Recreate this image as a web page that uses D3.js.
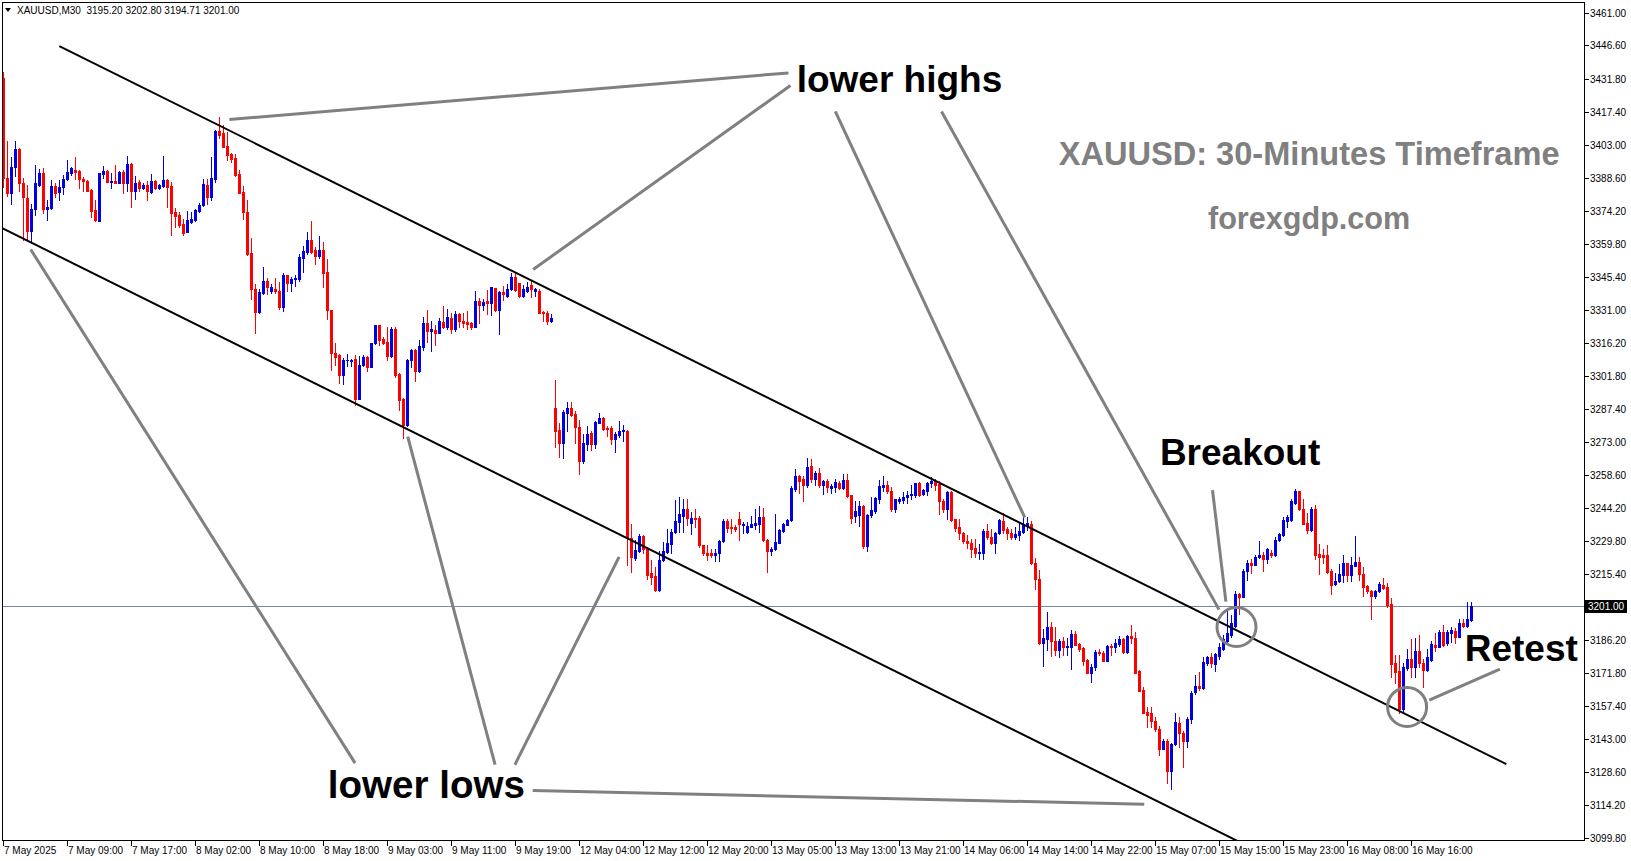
<!DOCTYPE html>
<html><head><meta charset="utf-8">
<script src="https://cdn.jsdelivr.net/npm/d3@7"></script>
<style>html,body{margin:0;padding:0;background:#fff;overflow:hidden}svg{display:block}</style>
</head><body>
<svg id="chart" width="1631" height="861"></svg>
<script>
// ---------------- DATA ----------------
const symbolName = "XAUUSD,M30";
const headerOHLC = ["3195.20", "3202.80", "3194.71", "3201.00"];
const lastPrice = 3201.00;

const timeLabels = ["7 May 2025","7 May 09:00","7 May 17:00","8 May 02:00","8 May 10:00","8 May 18:00",
  "9 May 03:00","9 May 11:00","9 May 19:00","12 May 04:00","12 May 12:00","12 May 20:00","13 May 05:00",
  "13 May 13:00","13 May 21:00","14 May 06:00","14 May 14:00","14 May 22:00","15 May 07:00","15 May 15:00",
  "15 May 23:00","16 May 08:00","16 May 16:00"];
const barsPerTimeLabel = 16;

const priceTicks = [3461.00,3446.60,3431.80,3417.40,3403.00,3388.60,3374.20,3359.80,3345.40,3331.00,
  3316.20,3301.80,3287.40,3273.00,3258.60,3244.20,3229.80,3215.40,3186.20,3171.80,3157.40,3143.00,
  3128.60,3114.20,3099.80];

const opens = [3432.2,3388.4,3382.1,3393.2,3401.4,3386.2,3379.8,3365.5,3374.8,3385.5,3390.6,3374.8,3375.5,3385.0,3382.3,3384.6,3388.0,3390.6,3392.3,3391.6,
3388.2,3387.2,3383.3,3374.5,3369.6,3390.3,3391.6,3386.8,3387.2,3386.5,3391.2,3386.5,3394.7,3383.0,3386.8,3384.2,3385.5,3382.4,3387.2,3384.3,
3385.0,3387.7,3385.0,3373.7,3372.2,3368.4,3364.9,3369.3,3370.1,3374.2,3376.6,3385.6,3380.4,3388.2,3409.3,3408.4,3402.5,3399.0,3397.3,3390.3,
3382.4,3373.9,3355.9,3340.1,3330.0,3338.3,3343.6,3338.9,3339.8,3339.2,3331.9,3345.9,3342.7,3344.2,3344.2,3353.5,3356.2,3361.4,3357.0,3354.4,
3357.0,3347.4,3330.8,3311.8,3310.9,3302.2,3308.8,3308.6,3309.2,3292.0,3306.5,3310.0,3306.0,3316.2,3324.1,3318.2,3316.7,3310.6,3322.6,3302.7,
3291.7,3280.3,3308.9,3313.2,3304.0,3314.7,3325.2,3321.4,3322.0,3320.8,3325.5,3323.2,3327.5,3322.3,3329.0,3326.1,3325.5,3324.9,3323.5,3334.8,
3332.8,3334.6,3333.7,3340.4,3330.8,3338.6,3336.9,3339.8,3345.1,3342.4,3336.9,3338.9,3341.6,3339.2,3339.2,3329.9,3329.3,3326.0,3287.7,3278.2,
3272.7,3285.8,3287.8,3285.2,3279.7,3264.8,3272.1,3277.0,3272.1,3281.4,3283.7,3279.1,3279.1,3274.4,3276.2,3277.6,3277.9,3230.8,3222.4,3225.4,
3231.8,3226.2,3215.7,3214.3,3208.1,3221.3,3224.8,3228.3,3233.5,3237.9,3240.8,3243.7,3237.6,3239.7,3239.7,3227.7,3224.5,3224.5,3223.3,3224.2,
3229.7,3238.2,3235.6,3235.9,3239.1,3236.5,3233.5,3235.9,3236.8,3237.0,3240.2,3230.3,3225.1,3226.2,3228.9,3234.1,3236.8,3238.8,3252.6,3258.1,
3256.6,3254.3,3262.5,3256.6,3259.5,3254.0,3256.0,3252.8,3253.4,3255.2,3252.8,3256.3,3249.6,3240.6,3241.2,3244.9,3227.4,3240.9,3242.6,3248.2,
3253.4,3254.3,3251.7,3243.8,3247.3,3247.6,3248.7,3249.6,3249.6,3254.9,3250.2,3251.7,3254.9,3255.7,3254.6,3247.3,3243.8,3251.1,3239.1,3235.6,
3233.3,3229.8,3228.9,3226.6,3224.2,3224.2,3234.1,3231.5,3228.9,3233.0,3238.5,3235.0,3233.3,3231.5,3232.4,3233.6,3236.2,3237.0,3220.1,3213.1,
3185.1,3186.9,3192.1,3185.7,3181.9,3185.7,3183.1,3183.3,3188.9,3184.5,3182.8,3177.5,3172.0,3174.3,3181.0,3180.7,3177.2,3183.6,3183.1,3184.5,
3186.6,3181.0,3188.0,3187.1,3172.6,3164.4,3154.8,3154.2,3151.0,3147.5,3138.7,3142.2,3129.1,3140.7,3150.1,3145.7,3142.2,3151.5,3163.5,3166.1,
3165.3,3176.3,3179.0,3175.8,3179.5,3182.5,3185.7,3188.3,3192.4,3206.4,3205.2,3216.3,3220.1,3219.2,3222.5,3223.6,3221.6,3224.5,3223.3,3230.0,
3232.1,3238.5,3238.8,3246.1,3251.4,3243.5,3237.6,3234.4,3243.5,3223.9,3223.6,3223.3,3216.3,3210.8,3212.0,3214.9,3219.8,3214.6,3218.7,3220.4,
3215.2,3209.9,3207.9,3205.5,3207.9,3210.5,3209.3,3202.0,3176.3,3172.6,3156.2,3174.0,3178.1,3174.3,3181.3,3176.3,3173.1,3177.5,3183.9,3183.3,
3189.8,3184.8,3189.2,3190.4,3187.7,3193.9,3192.4,3195.2];

const highs = [3435.1,3404.9,3397.6,3404.9,3401.7,3388.5,3385.3,3377.4,3394.1,3392.6,3392.9,3378.9,3387.7,3386.5,3387.7,3389.9,3396.4,3393.5,3397.6,3392.3,
3389.1,3387.7,3383.9,3378.9,3390.9,3393.8,3392.3,3390.6,3394.1,3391.5,3392.0,3398.2,3395.0,3389.4,3387.7,3386.5,3387.1,3390.3,3387.7,3385.9,
3398.2,3388.0,3386.8,3375.3,3373.9,3370.7,3374.2,3373.7,3374.8,3377.7,3388.2,3388.2,3397.6,3409.8,3415.1,3411.6,3408.7,3399.6,3399.0,3392.3,
3385.0,3378.9,3362.1,3342.1,3340.1,3349.4,3344.8,3342.1,3344.8,3343.0,3346.8,3346.2,3345.1,3346.2,3355.3,3358.8,3364.9,3369.6,3358.2,3363.2,
3360.5,3353.2,3330.8,3316.2,3311.5,3309.7,3311.5,3309.4,3310.9,3310.6,3311.2,3310.6,3316.5,3324.3,3324.3,3319.1,3323.2,3323.5,3323.2,3303.0,
3292.2,3309.2,3313.5,3313.5,3317.6,3327.8,3330.8,3326.1,3324.3,3327.5,3332.5,3331.3,3329.3,3330.2,3329.3,3329.6,3330.2,3325.5,3338.9,3336.0,
3335.7,3339.5,3341.0,3340.4,3339.2,3341.3,3342.1,3346.8,3347.1,3342.7,3341.9,3343.0,3343.6,3340.4,3340.1,3330.2,3330.5,3329.0,3300.1,3281.1,
3287.0,3290.5,3290.5,3286.4,3282.6,3276.4,3279.9,3277.9,3282.3,3285.5,3284.0,3280.0,3280.0,3277.3,3282.0,3280.5,3278.2,3237.3,3230.0,3232.7,
3232.1,3227.1,3221.3,3218.1,3225.1,3229.2,3234.7,3235.0,3247.6,3249.0,3248.1,3248.1,3242.3,3243.7,3240.5,3228.0,3227.7,3226.0,3226.2,3230.3,
3239.1,3239.1,3239.1,3236.8,3242.3,3237.9,3237.9,3240.8,3243.5,3244.9,3244.3,3230.6,3227.1,3241.4,3235.0,3237.6,3239.4,3253.7,3261.1,3258.7,
3258.1,3266.0,3265.4,3260.4,3261.6,3256.3,3256.6,3254.6,3256.6,3256.0,3259.2,3258.9,3249.9,3247.0,3247.0,3245.5,3241.4,3248.7,3248.7,3256.3,
3258.1,3255.7,3253.1,3248.2,3249.0,3251.1,3251.4,3254.0,3255.2,3255.5,3252.5,3255.5,3257.5,3256.9,3255.7,3247.9,3251.7,3251.7,3239.4,3239.4,
3233.6,3232.1,3230.4,3230.4,3228.3,3235.0,3237.1,3234.7,3233.6,3239.4,3242.0,3235.6,3235.0,3235.6,3237.9,3240.0,3240.0,3238.5,3222.0,3216.9,
3191.2,3198.5,3194.4,3192.1,3186.9,3187.4,3187.1,3190.9,3190.1,3185.1,3183.3,3178.1,3175.8,3181.9,3182.5,3181.3,3184.2,3184.5,3186.6,3188.0,
3187.1,3188.3,3193.0,3189.8,3173.1,3165.8,3157.1,3156.8,3152.7,3148.6,3143.1,3142.8,3141.0,3154.5,3152.4,3146.6,3152.7,3163.8,3171.1,3172.3,
3178.7,3179.3,3180.7,3180.4,3184.8,3188.6,3199.4,3197.4,3207.6,3206.7,3217.5,3221.3,3221.6,3223.3,3229.8,3224.8,3226.8,3225.7,3231.5,3233.3,
3240.3,3241.1,3248.1,3252.5,3251.7,3248.1,3242.0,3244.6,3245.2,3228.3,3226.0,3227.7,3217.5,3215.5,3219.5,3223.3,3220.1,3222.5,3231.8,3222.5,
3218.4,3210.2,3208.2,3208.4,3211.7,3213.4,3211.4,3204.7,3179.6,3179.6,3176.1,3182.5,3186.6,3187.1,3188.6,3178.1,3182.2,3185.7,3189.2,3190.6,
3192.7,3190.6,3192.1,3191.5,3195.3,3195.3,3202.9,3202.8];

const lows = [3384.7,3380.6,3377.1,3389.4,3383.0,3361.4,3361.4,3360.7,3372.2,3385.0,3373.4,3370.4,3375.1,3380.4,3378.9,3381.5,3387.7,3389.9,3388.0,3384.0,
3383.0,3382.7,3371.6,3369.9,3369.6,3388.4,3386.8,3384.0,3386.2,3386.2,3381.8,3382.8,3375.7,3379.5,3383.0,3383.6,3378.9,3382.1,3383.9,3383.9,
3384.7,3376.0,3363.7,3367.2,3367.2,3363.7,3364.9,3369.0,3369.9,3373.7,3376.3,3377.1,3378.9,3386.8,3406.3,3402.0,3396.4,3395.8,3389.4,3381.8,
3370.7,3354.7,3335.7,3320.5,3329.3,3337.8,3337.8,3338.1,3338.1,3331.3,3330.5,3339.2,3338.9,3341.3,3343.6,3347.4,3355.3,3355.9,3350.9,3353.5,
3341.0,3326.7,3304.5,3306.8,3298.7,3298.4,3306.2,3306.2,3289.0,3291.7,3306.2,3303.9,3305.8,3315.9,3315.3,3315.9,3308.9,3310.3,3301.6,3287.0,
3274.7,3280.0,3306.0,3299.5,3303.6,3313.2,3316.8,3313.0,3315.6,3320.5,3322.9,3322.6,3320.5,3321.7,3323.2,3323.5,3322.3,3322.3,3323.2,3324.9,
3330.8,3329.0,3328.7,3330.5,3320.2,3335.1,3336.6,3339.5,3339.2,3336.6,3336.3,3338.6,3336.3,3336.9,3329.3,3325.8,3324.5,3325.5,3270.9,3266.5,
3266.2,3277.9,3284.3,3272.4,3259.2,3263.6,3269.7,3269.7,3270.3,3281.1,3278.2,3275.6,3272.1,3268.8,3275.0,3273.5,3219.1,3216.0,3221.3,3224.8,
3224.5,3213.1,3210.8,3207.9,3207.9,3221.0,3224.2,3224.2,3233.0,3233.8,3233.5,3236.5,3232.9,3235.6,3227.1,3223.3,3221.3,3222.7,3220.7,3221.0,
3229.4,3233.8,3233.3,3234.1,3230.0,3233.0,3233.2,3235.6,3234.7,3233.8,3229.7,3216.0,3223.3,3225.7,3228.6,3233.5,3236.5,3238.5,3251.4,3250.5,
3247.3,3253.4,3255.5,3254.0,3253.4,3250.2,3251.1,3250.8,3251.1,3252.5,3252.5,3248.7,3237.7,3237.9,3236.2,3226.8,3225.4,3240.3,3242.0,3246.4,
3251.4,3250.8,3242.6,3242.3,3246.1,3246.1,3246.4,3247.9,3249.0,3249.3,3249.6,3249.9,3253.1,3251.9,3241.4,3242.3,3239.1,3238.2,3234.1,3230.6,
3228.9,3226.6,3222.8,3222.8,3221.9,3221.9,3230.6,3228.3,3224.5,3232.7,3233.3,3230.6,3230.6,3230.4,3230.1,3233.3,3234.4,3219.6,3208.7,3184.5,
3174.9,3181.9,3179.3,3179.6,3179.0,3179.6,3179.6,3173.4,3183.9,3181.6,3175.5,3171.7,3167.9,3173.1,3179.6,3176.9,3177.8,3179.6,3181.0,3183.6,
3180.7,3180.7,3184.8,3171.7,3163.8,3154.2,3148.3,3148.3,3146.6,3135.8,3138.4,3123.8,3120.9,3140.2,3139.6,3130.8,3139.3,3149.8,3162.6,3164.4,
3165.0,3175.5,3174.6,3172.6,3177.8,3181.9,3185.1,3187.7,3192.1,3197.7,3205.0,3212.5,3215.5,3219.0,3222.2,3216.6,3219.8,3222.5,3223.0,3229.5,
3231.8,3235.9,3238.5,3245.8,3243.2,3237.1,3233.0,3234.1,3221.9,3215.2,3220.1,3215.5,3206.4,3210.5,3211.7,3211.7,3212.2,3212.2,3218.7,3212.5,
3205.5,3206.7,3195.6,3204.7,3207.3,3208.5,3200.6,3170.2,3167.3,3154.2,3154.8,3173.1,3170.2,3169.9,3174.6,3165.8,3172.8,3177.2,3181.6,3183.1,
3183.6,3184.2,3185.4,3185.1,3187.4,3192.1,3192.1,3194.71];

const closes = [3388.4,3382.1,3393.2,3401.1,3386.2,3380.1,3365.5,3374.8,3386.2,3390.6,3375.1,3375.8,3385.0,3382.1,3384.6,3388.2,3391.0,3392.9,3391.3,3388.0,
3387.1,3383.0,3374.2,3370.1,3390.6,3391.6,3386.9,3387.1,3386.5,3391.2,3386.5,3394.7,3383.0,3386.5,3384.2,3385.5,3382.7,3387.2,3384.3,3385.5,
3387.7,3384.7,3373.4,3371.9,3368.1,3364.6,3370.1,3370.7,3374.5,3376.9,3385.9,3380.4,3388.5,3409.3,3407.5,3402.3,3398.8,3396.7,3390.0,3382.1,
3373.7,3355.3,3339.8,3330.0,3338.6,3343.6,3341.0,3341.0,3338.9,3331.9,3346.2,3342.7,3344.5,3344.8,3354.1,3356.7,3361.4,3356.2,3354.4,3357.0,
3347.1,3330.8,3311.8,3310.3,3302.2,3308.9,3308.9,3308.9,3292.0,3306.5,3310.3,3305.9,3316.2,3324.1,3317.6,3316.5,3310.6,3322.6,3302.5,3291.4,
3280.3,3308.9,3313.2,3304.0,3315.0,3325.2,3321.4,3322.3,3320.8,3325.8,3323.2,3327.8,3322.3,3329.0,3325.8,3325.2,3324.6,3323.5,3334.8,3332.8,
3334.3,3333.7,3340.7,3330.8,3338.6,3337.8,3340.1,3345.1,3339.5,3336.9,3340.1,3341.0,3339.8,3339.8,3329.6,3329.3,3326.0,3327.5,3277.9,3272.7,
3286.1,3287.8,3284.8,3279.4,3264.8,3272.4,3276.4,3272.1,3281.7,3283.7,3278.5,3278.8,3274.4,3276.5,3277.9,3278.2,3230.8,3222.7,3225.6,3231.8,
3226.0,3214.9,3214.0,3208.1,3221.3,3225.1,3228.9,3233.8,3238.5,3241.4,3243.7,3239.7,3239.7,3239.4,3227.7,3224.2,3223.6,3223.3,3224.5,3229.7,
3238.2,3235.3,3235.3,3235.0,3237.0,3237.3,3236.2,3237.0,3237.6,3240.0,3230.0,3225.4,3226.2,3229.2,3234.4,3237.0,3238.8,3252.8,3257.9,3256.1,
3254.3,3262.2,3256.6,3259.5,3254.3,3255.7,3253.1,3253.7,3255.5,3252.8,3256.3,3249.3,3239.7,3242.6,3244.9,3227.4,3241.2,3243.2,3248.4,3253.7,
3254.3,3251.4,3243.8,3247.9,3248.2,3249.0,3249.9,3250.2,3254.9,3249.9,3252.0,3255.2,3255.7,3254.3,3247.0,3243.8,3251.1,3238.8,3235.3,3233.0,
3229.5,3228.6,3226.3,3224.5,3224.8,3234.1,3231.2,3228.9,3233.0,3238.8,3234.4,3233.0,3231.2,3232.7,3233.9,3236.8,3237.4,3220.0,3213.1,3184.8,
3187.1,3191.8,3185.7,3181.9,3185.7,3183.3,3183.6,3188.9,3184.2,3182.2,3177.2,3172.0,3174.6,3181.0,3180.4,3177.2,3183.6,3183.1,3184.8,3186.6,
3181.0,3188.0,3187.1,3172.0,3164.1,3154.5,3153.6,3150.7,3147.2,3138.7,3141.9,3129.1,3140.7,3150.4,3145.4,3142.2,3151.8,3163.2,3166.1,3165.3,
3176.6,3178.7,3176.1,3180.1,3183.3,3186.9,3189.2,3193.6,3206.4,3205.2,3216.6,3220.1,3219.2,3222.8,3223.6,3221.6,3226.3,3223.3,3230.3,3232.7,
3238.8,3240.3,3247.3,3251.4,3243.5,3237.3,3234.4,3243.5,3223.6,3222.5,3222.5,3216.0,3210.5,3212.2,3215.2,3219.8,3214.6,3219.0,3220.4,3215.2,
3209.6,3207.9,3205.5,3207.9,3210.8,3209.0,3201.7,3176.0,3172.3,3156.2,3174.3,3178.1,3174.6,3181.3,3176.1,3173.1,3178.7,3184.5,3183.1,3189.8,
3184.0,3189.8,3190.6,3187.7,3193.9,3192.4,3195.6,3201.0];

// trend channel: [barIndex, price] end points
const channelUpper = [[13.95, 3446.3], [375.7, 3132.0]];
const channelLower = [[-0.2, 3366.5], [310.0, 3097.0]];

// grey pointer lines: [[bar, price], [bar, price]]
const pointerLines = [
  [[196.25, 3434.6], [56.45, 3414.2]],
  [[196.75, 3429.1], [132.4, 3348.5]],
  [[207.95, 3417.7], [255.3, 3240.0]],
  [[234.5, 3417.7], [303.9, 3199.6]],
  [[302.25, 3251.9], [305.6, 3203.1]],
  [[356.45, 3160.0], [374.1, 3173.6]],
  [[87.9, 3132.4], [6.8, 3357.3]],
  [[122.9, 3131.7], [101.05, 3275.3]],
  [[127.85, 3131.7], [153.9, 3222.7]],
  [[132.3, 3120.4], [285.2, 3114.4]]
];
// circles: [bar, price]
const circleMarks = [[308.25, 3192.0], [350.9, 3157.0]];

// text annotations: anchor [bar, price]
const annotations = [
  {text: "lower highs", bar: 198.3, price: 3426.4, kind: "note"},
  {text: "Breakout", bar: 289.1, price: 3262.9, kind: "note"},
  {text: "Retest", bar: 365.3, price: 3177.3, kind: "note"},
  {text: "lower lows", bar: 81.05, price: 3117.2, kind: "noteWide"},
  {text: "XAUUSD: 30-Minutes Timeframe", bar: 326.4, price: 3394.4, kind: "title"},
  {text: "forexgdp.com", bar: 326.4, price: 3366.3, kind: "site"}
];

// ---------------- STYLE / LAYOUT ----------------
const W = 1631, H = 861;
const plot = {left: 2, top: 3, right: 1584, bottom: 841};
const bullColor = "#0000e6", bearColor = "#ff0000";
const axisFont = "'Liberation Sans', Arial, sans-serif";
const styles = {
  note: {size: 37, fill: "#000", anchor: "start"},
  noteWide: {size: 38.6, fill: "#000", anchor: "start"},
  title: {size: 32.6, fill: "#808080", anchor: "middle"},
  site: {size: 30.6, fill: "#808080", anchor: "middle"}
};

const svg = d3.select("#chart");
const n = closes.length;
const x = d3.scaleLinear().domain([0, n - 1]).range([3, 3 + 4 * (n - 1)]);
const y = d3.scaleLinear().domain([3098.3, 3465.2]).range([plot.bottom, plot.top]);
const xc = b => x(b) + 0.5;

svg.append("rect").attr("width", W).attr("height", H).attr("fill", "#fff");

svg.append("defs").append("clipPath").attr("id", "plotClip")
  .append("rect").attr("x", plot.left).attr("y", plot.top)
  .attr("width", plot.right - plot.left).attr("height", plot.bottom - plot.top);

const g = svg.append("g").attr("clip-path", "url(#plotClip)");

// last price line
g.append("line")
  .attr("x1", plot.left).attr("x2", plot.right)
  .attr("y1", Math.round(y(lastPrice)) + 0.5).attr("y2", Math.round(y(lastPrice)) + 0.5)
  .attr("stroke", "#778899").attr("stroke-width", 1);

// candles
const data = d3.range(n).map(i => ({i, o: opens[i], h: highs[i], l: lows[i], c: closes[i]}));
const cg = g.append("g").attr("shape-rendering", "crispEdges");
cg.selectAll("rect.wick").data(data).join("rect").attr("class", "wick")
  .attr("x", d => x(d.i)).attr("width", 1)
  .attr("y", d => Math.round(y(d.h)))
  .attr("height", d => Math.max(1, Math.round(y(d.l)) - Math.round(y(d.h)) + 1))
  .attr("fill", d => d.c >= d.o ? bullColor : bearColor);
cg.selectAll("rect.body").data(data).join("rect").attr("class", "body")
  .attr("x", d => x(d.i) - 1).attr("width", 3)
  .attr("y", d => Math.round(y(Math.max(d.o, d.c))))
  .attr("height", d => Math.max(1, Math.round(y(Math.min(d.o, d.c))) - Math.round(y(Math.max(d.o, d.c))) + 1))
  .attr("fill", d => d.c >= d.o ? bullColor : bearColor);

// channel lines
[channelUpper, channelLower].forEach(p => {
  g.append("line")
    .attr("x1", xc(p[0][0])).attr("y1", y(p[0][1]))
    .attr("x2", xc(p[1][0])).attr("y2", y(p[1][1]))
    .attr("stroke", "#000").attr("stroke-width", 2);
});

// grey pointer lines
g.selectAll("line.pointer").data(pointerLines).join("line").attr("class", "pointer")
  .attr("x1", d => xc(d[0][0])).attr("y1", d => y(d[0][1]))
  .attr("x2", d => xc(d[1][0])).attr("y2", d => y(d[1][1]))
  .attr("stroke", "#808080").attr("stroke-width", 3);

// circles
g.selectAll("circle.mark").data(circleMarks).join("circle").attr("class", "mark")
  .attr("cx", d => xc(d[0])).attr("cy", d => y(d[1])).attr("r", 19.5)
  .attr("fill", "none").attr("stroke", "#808080").attr("stroke-width", 3);

// annotations
svg.selectAll("text.ann").data(annotations).join("text").attr("class", "ann")
  .attr("x", d => xc(d.bar)).attr("y", d => y(d.price))
  .attr("font-family", "'Liberation Sans', Arial, sans-serif")
  .attr("font-weight", "bold")
  .attr("font-size", d => styles[d.kind].size)
  .attr("fill", d => styles[d.kind].fill)
  .attr("text-anchor", d => styles[d.kind].anchor)
  .text(d => d.text);

// frame
svg.append("rect")
  .attr("x", plot.left + 0.5).attr("y", plot.top - 0.5)
  .attr("width", plot.right - plot.left).attr("height", plot.bottom - plot.top)
  .attr("fill", "none").attr("stroke", "#000").attr("stroke-width", 1)
  .attr("shape-rendering", "crispEdges");

// right price axis
const ax = svg.append("g").attr("shape-rendering", "crispEdges");
ax.selectAll("line.pt").data(priceTicks).join("line").attr("class", "pt")
  .attr("x1", plot.right + 1).attr("x2", plot.right + 5)
  .attr("y1", d => Math.round(y(d)) + 0.5).attr("y2", d => Math.round(y(d)) + 0.5)
  .attr("stroke", "#000");
svg.selectAll("text.pt").data(priceTicks).join("text").attr("class", "pt")
  .attr("x", plot.right + 6).attr("y", d => Math.round(y(d)) + 4)
  .attr("font-family", axisFont).attr("font-size", 10).attr("fill", "#000")
  .text(d => d.toFixed(2));

// last price box
const ly = Math.round(y(lastPrice));
svg.append("rect").attr("x", plot.right + 1).attr("y", ly - 6).attr("width", 42).attr("height", 13)
  .attr("fill", "#000").attr("shape-rendering", "crispEdges");
svg.append("text").attr("x", plot.right + 4).attr("y", ly + 4)
  .attr("font-family", axisFont).attr("font-size", 10).attr("fill", "#fff")
  .text(lastPrice.toFixed(2));

// time axis
const tdata = timeLabels.map((t, k) => ({t, bar: k * barsPerTimeLabel}));
ax.selectAll("line.tt").data(tdata).join("line").attr("class", "tt")
  .attr("x1", d => x(d.bar) + 0.5).attr("x2", d => x(d.bar) + 0.5)
  .attr("y1", plot.bottom).attr("y2", plot.bottom + 5)
  .attr("stroke", "#000");
svg.selectAll("text.tt").data(tdata).join("text").attr("class", "tt")
  .attr("x", d => x(d.bar) + 1).attr("y", plot.bottom + 13)
  .attr("font-family", axisFont).attr("font-size", 10).attr("fill", "#000")
  .text(d => d.t);

// header
svg.append("path").attr("d", "M5,8 L11,8 L8,12 Z").attr("fill", "#000");
svg.append("text").attr("x", 17).attr("y", 14)
  .attr("font-family", axisFont).attr("font-size", 10).attr("fill", "#000")
  .attr("xml:space", "preserve")
  .text(symbolName + "  " + headerOHLC.join(" "));
</script>
</body></html>
